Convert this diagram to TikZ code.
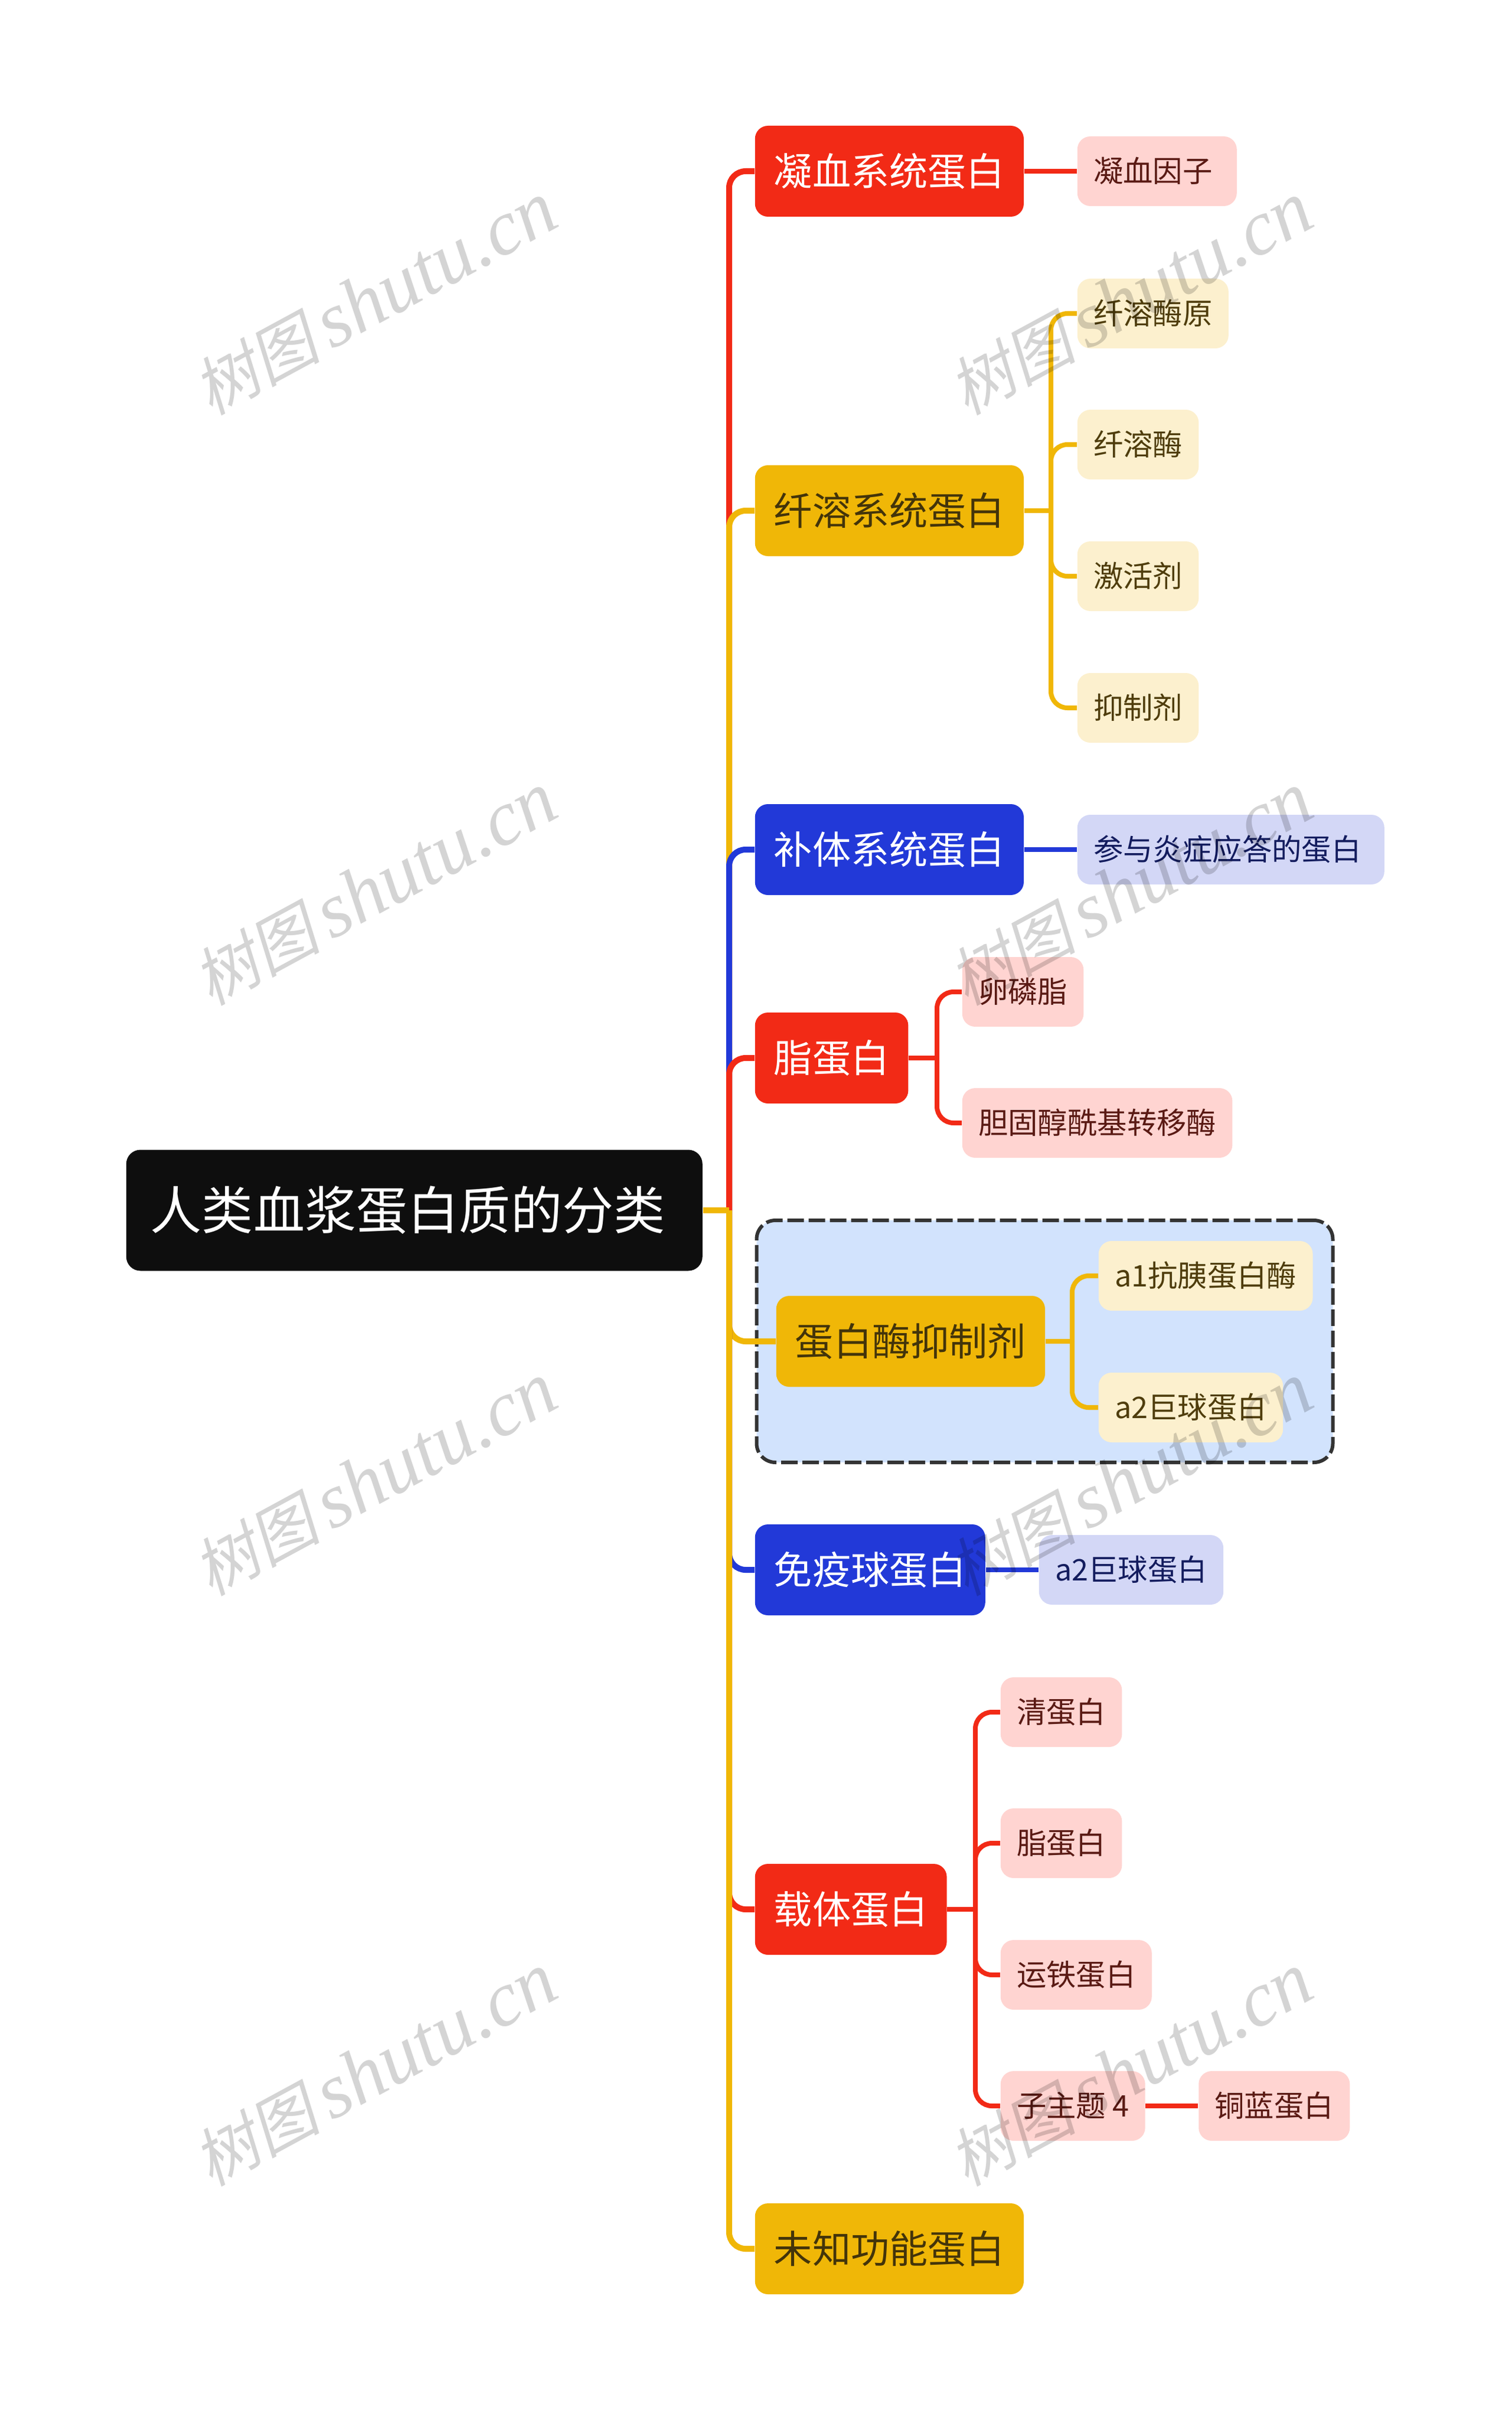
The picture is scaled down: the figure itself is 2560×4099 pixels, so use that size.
\documentclass[tikz,border=0pt]{standalone}
\usepackage{fontspec}
\setmainfont{Noto Sans CJK SC}
\newfontfamily\markcjk[FakeSlant=0.2]{Noto Sans CJK SC}
\newfontfamily\marklatin{Liberation Serif}
\newcommand{\marktext}{{\fontsize{27pt}{27pt}\selectfont\markcjk 树图}\kern4.5pt{\fontsize{33pt}{33pt}\selectfont\marklatin\itshape shutu.cn}}
\usetikzlibrary{positioning}

\definecolor{rootblack}{HTML}{0E0E0E}
\definecolor{mainred}{HTML}{F22A16}
\definecolor{mainyellow}{HTML}{F0B707}
\definecolor{mainblue}{HTML}{2239D8}
\definecolor{palered}{HTML}{FFD4D1}
\definecolor{paleyellow}{HTML}{FCF0CE}
\definecolor{paleblue}{HTML}{D3D7F6}
\definecolor{inkred}{HTML}{5A1A14}
\definecolor{inkyellow}{HTML}{4F3D0C}
\definecolor{inkblue}{HTML}{131C5E}
\definecolor{groupblue}{HTML}{D2E3FD}
\definecolor{groupline}{HTML}{333333}

\tikzset{
  box/.style={anchor=west,inner ysep=0pt},
  topic/.style={box,rounded corners=5.5pt,inner xsep=8pt,minimum height=38.5pt,text height=14pt,text depth=1.95pt,font=\fontsize{16.3pt}{16.3pt}\selectfont},
  topicred/.style={topic,fill=mainred,text=white},
  topicblue/.style={topic,fill=mainblue,text=white},
  topicyellow/.style={topic,fill=mainyellow,text=inkyellow!85!black},
  sub/.style={box,rounded corners=5.5pt,inner xsep=6.8pt,minimum height=29.5pt,text height=10.6pt,text depth=1.5pt,font=\fontsize{12.6pt}{12.6pt}\selectfont},
  subred/.style={sub,fill=palered,text=inkred},
  subyellow/.style={sub,fill=paleyellow,text=inkyellow},
  subblue/.style={sub,fill=paleblue,text=inkblue},
  elbow/.style={rounded corners=7pt,to path={|- (\tikztotarget)}},
  trunk/.style={line width=2.5pt},
  twig/.style={line width=2pt},
  watermark/.style={rotate=28.5,text=black,text opacity=.17}
}

\begin{document}
\begin{tikzpicture}[x=0.25pt,y=-0.25pt]
  \useasboundingbox (0,0) rectangle (2560,4099);

  \node[draw=groupline,fill=groupblue,line width=1.5pt,dash pattern=on 7pt off 2pt,rounded corners=8pt,
    minimum width=244pt,minimum height=102.5pt,inner sep=0pt] (group) at (1769.5,2272) {};

  \node[box,fill=rootblack,text=white,rounded corners=6pt,inner xsep=10.2pt,minimum height=51.25pt,
    text height=18.8pt,text depth=2.6pt,font=\fontsize{21.8pt}{21.8pt}\selectfont] (root) at (213,2050) {人类血浆蛋白质的分类\kern5.6pt};

  \node[topicred]    (clot)       at (1278,290)  {凝血系统蛋白};
  \node[topicyellow] (fibrin)     at (1278,865)  {纤溶系统蛋白};
  \node[topicblue]   (complement) at (1278,1439) {补体系统蛋白};
  \node[topicred]    (lipo)       at (1278,1792) {脂蛋白};
  \node[topicyellow] (inhibitor)  at (1314,2272) {蛋白酶抑制剂};
  \node[topicblue]   (immuno)     at (1278,2659) {免疫球蛋白};
  \node[topicred]    (carrier)    at (1278,3234) {载体蛋白};
  \node[topicyellow] (unknown)    at (1278,3809) {未知功能蛋白};

  \node[subred]    (factor)      at (1824,290)  {凝血因子\kern3.5pt};
  \node[subyellow] (plasminogen) at (1824,531)  {纤溶酶原};
  \node[subyellow] (plasmin)     at (1824,753)  {纤溶酶};
  \node[subyellow] (activator)   at (1824,976)  {激活剂};
  \node[subyellow] (blocker)     at (1824,1199) {抑制剂};
  \node[subblue]   (response)    at (1824,1439) {参与炎症应答的蛋白\kern3pt};
  \node[subred]    (lecithin)    at (1629,1680) {卵磷脂};
  \node[subred]    (transferase) at (1629,1902) {胆固醇酰基转移酶};
  \node[subyellow] (antitrypsin) at (1860,2161) {a1抗胰蛋白酶};
  \node[subyellow] (macroA)      at (1860,2384) {a2巨球蛋白};
  \node[subblue]   (macroB)      at (1759,2659) {a2巨球蛋白};
  \node[subred]    (albumin)     at (1694,2900) {清蛋白};
  \node[subred]    (lipoB)       at (1694,3122) {脂蛋白};
  \node[subred]    (transferrin) at (1694,3345) {运铁蛋白};
  \node[subred]    (subtopic)    at (1694,3567) {子主题 4};
  \node[subred]    (ceruloplasmin) [right=22.25pt of subtopic] {铜蓝蛋白};

  \coordinate (hub)     at (1235,2050);
  \coordinate (hubfib)  at (1780,865);
  \coordinate (hublipo) at (1587,1792);
  \coordinate (hubinh)  at (1816,2272);
  \coordinate (hubcar)  at (1652,3234);

  % trunk, in tree order so the later branches lie on top
  \path[trunk]
    (hub)
      edge [elbow,mainred] (clot.west)
      edge [elbow,mainyellow] (fibrin.west)
      edge [elbow,mainblue] (complement.west)
      edge [elbow,mainred] (lipo.west)
      edge [elbow,mainyellow] (inhibitor.west)
      edge [elbow,mainblue] (immuno.west)
      edge [elbow,mainred] (carrier.west)
      edge [elbow,mainyellow] (unknown.west)
    (root.east)
      edge [mainyellow] (hub)
  ;
  \path[twig,mainred]
    (clot.east) edge (factor.west)
    (lipo.east) edge (hublipo)
    (hublipo)
      edge [elbow] (lecithin.west)
      edge [elbow] (transferase.west)
    (carrier.east) edge (hubcar)
    (hubcar)
      edge [elbow] (albumin.west)
      edge [elbow] (lipoB.west)
      edge [elbow] (transferrin.west)
      edge [elbow] (subtopic.west)
    (subtopic.east) edge (ceruloplasmin.west)
  ;
  \path[twig,mainyellow]
    (fibrin.east) edge (hubfib)
    (hubfib)
      edge [elbow] (plasminogen.west)
      edge [elbow] (plasmin.west)
      edge [elbow] (activator.west)
      edge [elbow] (blocker.west)
    (inhibitor.east) edge (hubinh)
    (hubinh)
      edge [elbow] (antitrypsin.west)
      edge [elbow] (macroA.west)
  ;
  \path[twig,mainblue]
    (complement.east) edge (response.west)
    (immuno.east) edge (macroB.west)
  ;

  \node[watermark] (markA) at (635,506)   {\marktext};
  \node[watermark] (markB) at (1915,506)  {\marktext};
  \node[watermark] (markC) at (635,1506)  {\marktext};
  \node[watermark] (markD) at (1915,1506) {\marktext};
  \node[watermark] (markE) at (635,2506)  {\marktext};
  \node[watermark] (markF) at (1915,2506) {\marktext};
  \node[watermark] (markG) at (635,3506)  {\marktext};
  \node[watermark] (markH) at (1915,3506) {\marktext};
\end{tikzpicture}
\end{document}
